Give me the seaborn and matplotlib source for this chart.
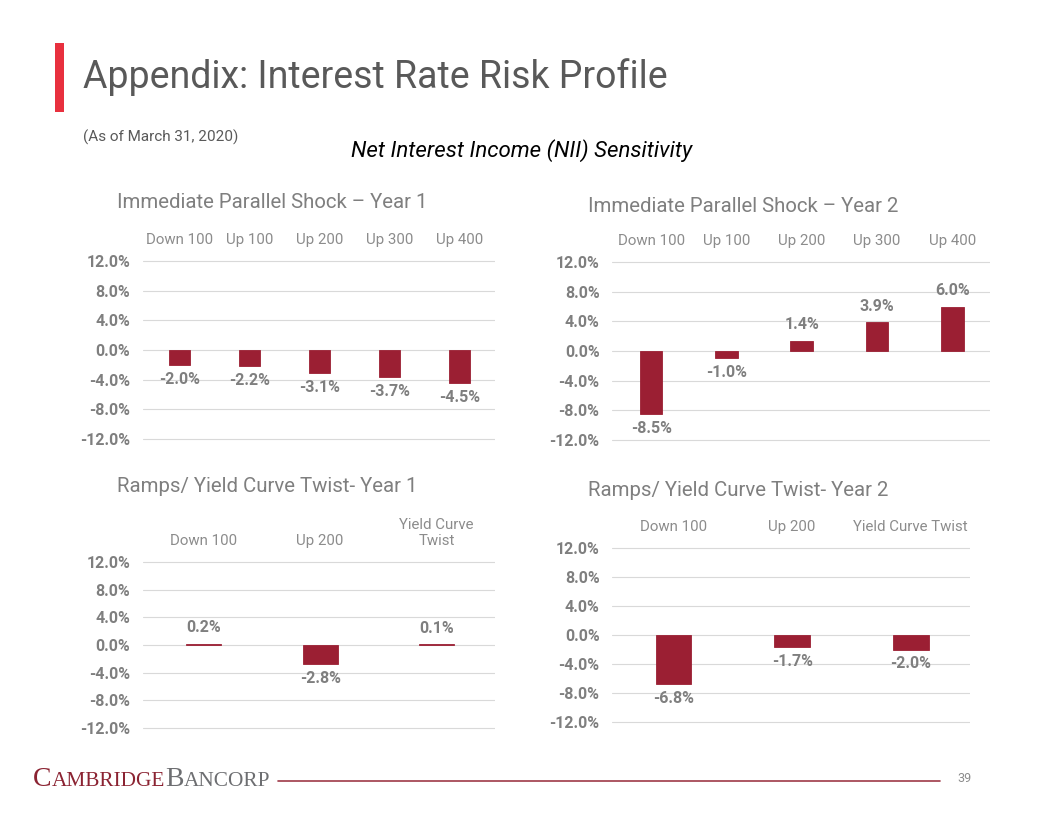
"""NII sensitivity slide: four small bar panels with a slide header and footer."""
import matplotlib

matplotlib.use("Agg")
import matplotlib.pyplot as plt
import seaborn as sns
from matplotlib.lines import Line2D
from matplotlib.patches import Rectangle

# ---- data ----
SHOCK_CATS = ["Down 100", "Up 100", "Up 200", "Up 300", "Up 400"]
SHOCK_Y1 = [-2.0, -2.2, -3.1, -3.7, -4.5]
SHOCK_Y2 = [-8.5, -1.0, 1.4, 3.9, 6.0]

RAMP_CATS_Y1 = ["Down 100", "Up 200", "Yield Curve\nTwist"]
RAMP_CATS_Y2 = ["Down 100", "Up 200", "Yield Curve Twist"]
RAMP_Y1 = [0.2, -2.8, 0.1]
RAMP_Y2 = [-6.8, -1.7, -2.0]

Y_TICKS = [-12, -8, -4, 0, 4, 8, 12]

TITLE = "Appendix: Interest Rate Risk Profile"
AS_OF = "(As of March 31, 2020)"
HEADLINE = "Net Interest Income (NII) Sensitivity"
PANEL_TITLES = [
    "Immediate Parallel Shock \u2013 Year 1",
    "Immediate Parallel Shock \u2013 Year 2",
    "Ramps/ Yield Curve Twist- Year 1",
    "Ramps/ Yield Curve Twist- Year 2",
]

BAR = "#9B1F33"
GRAY = "#7F7F7F"
LIGHT = "#8C8C8C"
DARK = "#595959"

W, H = 1056, 816

sns.set_theme(style="white")
plt.rcParams["font.family"] = ["Roboto", "DejaVu Sans"]

fig = plt.figure(figsize=(W / 100, H / 100), dpi=100)


def panel(cats, vals, left, right, y12, ym12, title, tx, ty):
    """Bar panel; pixel box given by gridline extents of +/-12%."""
    per = (ym12 - y12) / 24.0
    top, bot = y12 - per, ym12 + per
    ax = fig.add_axes([left / W, 1 - bot / H, (right - left) / W, (bot - top) / H])
    sns.barplot(x=cats, y=vals, color=BAR, width=0.3, saturation=1,
                edgecolor=BAR, linewidth=0.6, ax=ax)
    ax.set_ylim(-13, 13)
    ax.set_xlim(-0.52, len(cats) - 0.5)
    ax.set_yticks(Y_TICKS)
    ax.set_yticklabels([f"{v:.1f}%" for v in Y_TICKS], fontweight="bold", color=GRAY, fontsize=11.5)
    ax.yaxis.grid(True, color="#D9D9D9", lw=0.8)
    ax.set_axisbelow(True)
    ax.tick_params(axis="y", length=0, pad=9)
    ax.xaxis.tick_top()
    ax.tick_params(axis="x", length=0, pad=5, labelcolor=LIGHT, labelsize=10.8)
    for s in ax.spines.values():
        s.set_visible(False)
    for i, v in enumerate(vals):
        ax.annotate(
            f"{v:.1f}%",
            (i, v),
            xytext=(0, -5 if v < 0 else 6),
            textcoords="offset points",
            ha="center",
            va="top" if v < 0 else "bottom",
            fontweight="bold",
            color=GRAY,
            fontsize=11.5,
        )
    fig.text(tx / W, 1 - ty / H, title, fontsize=14.7, color=GRAY, va="center")
    return ax


panel(SHOCK_CATS, SHOCK_Y1, 143, 495, 261, 439, PANEL_TITLES[0], 117, 203)
panel(SHOCK_CATS, SHOCK_Y2, 612, 990, 262, 440, PANEL_TITLES[1], 588, 206)
panel(RAMP_CATS_Y1, RAMP_Y1, 143, 495, 562, 728, PANEL_TITLES[2], 117, 486)
panel(RAMP_CATS_Y2, RAMP_Y2, 612, 970, 548, 722, PANEL_TITLES[3], 588, 491)

# ---- header ----
fig.add_artist(Rectangle((55 / W, 1 - 112 / H), 9 / W, 69 / H, color="#E8303E", lw=0))
fig.text(83 / W, 1 - 77 / H, TITLE, fontsize=27, color=DARK, va="center")
fig.text(83 / W, 1 - 137 / H, AS_OF, fontsize=11, color=DARK, va="center")
fig.text(522 / W, 1 - 151 / H, HEADLINE, fontsize=16, style="italic", color="black",
         ha="center", va="center")

# ---- footer ----
renderer = fig.canvas.get_renderer()
x = 33.0
base = 1 - 786 / H
for txt, size, col in [("C", 20, "#8B2332"), ("AMBRIDGE", 15.3, "#8B2332"),
                       ("B", 20, "#6D6E71"), ("ANCORP", 15.3, "#6D6E71")]:
    t = fig.text(x / W, base, txt, fontsize=size, color=col, va="baseline",
                 family="Liberation Serif")
    x = t.get_window_extent(renderer).x1
fig.add_artist(Line2D([278 / W, 940 / W], [1 - 781 / H] * 2, color="#9E3A48", lw=1.2))
fig.text(965 / W, 1 - 778 / H, "39", fontsize=9, color=LIGHT, ha="center", va="center")

fig.savefig("out.png", dpi=100)
